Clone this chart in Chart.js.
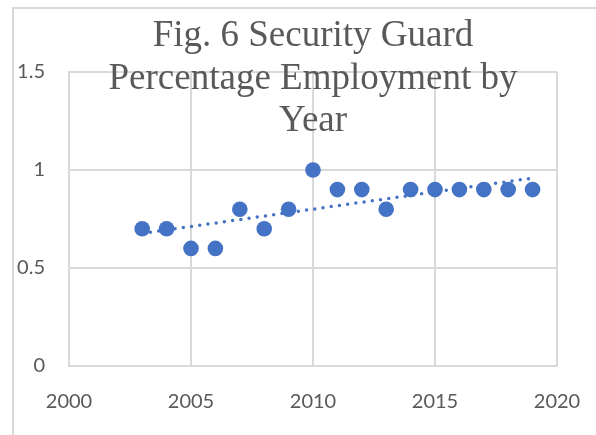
<!DOCTYPE html>
<html>
<head>
<meta charset="utf-8">
<script src="https://cdn.jsdelivr.net/npm/chart.js@4"></script>
<style>
  html, body { margin: 0; background: #fff; }
  canvas { display: block; }
</style>
</head>
<body>
<canvas id="guardChart" width="596" height="435"></canvas>
<script>
const years = [2003, 2004, 2005, 2006, 2007, 2008, 2009, 2010, 2011, 2012, 2013, 2014, 2015, 2016, 2017, 2018, 2019];
const shares = [0.7, 0.7, 0.6, 0.6, 0.8, 0.7, 0.8, 1.0, 0.9, 0.9, 0.8, 0.9, 0.9, 0.9, 0.9, 0.9, 0.9];
const xTicks = [2000, 2005, 2010, 2015, 2020];
const yTicks = [0, 0.5, 1, 1.5];
const titleLines = ['Fig. 6 Security Guard', 'Percentage Employment by', 'Year'];

const GRID = '#d9d9d9';
const TEXT = '#595959';
const BLUE = '#4472C4';

// least-squares fit for the dotted trendline
function linearFit(xs, ys) {
    const n = xs.length;
    const mx = xs.reduce((a, b) => a + b, 0) / n;
    const my = ys.reduce((a, b) => a + b, 0) / n;
    let sxy = 0, sxx = 0;
    xs.forEach((x, i) => {
        sxy += (x - mx) * (ys[i] - my);
        sxx += (x - mx) * (x - mx);
    });
    const slope = sxy / sxx;
    return x => my + slope * (x - mx);
}

const fit = linearFit(years, shares);
const first = years[0], last = years[years.length - 1];
const trendPoints = [{ x: first, y: fit(first) }, { x: last, y: fit(last) }];
const points = years.map((y, i) => ({ x: y, y: shares[i] }));

const frameAndTitle = {
    id: 'frameAndTitle',
    beforeDraw(chart) {
        const ctx = chart.ctx;
        ctx.save();
        ctx.fillStyle = '#fff';
        ctx.fillRect(0, 0, chart.width, chart.height);
        ctx.strokeStyle = GRID;
        ctx.lineWidth = 2;
        ctx.strokeRect(13, 8, chart.width + 20, chart.height + 20);
        ctx.restore();
    },
    afterDraw(chart) {
        const ctx = chart.ctx;
        const area = chart.chartArea;
        const cx = (area.left + area.right) / 2;
        ctx.save();
        ctx.fillStyle = TEXT;
        ctx.font = '37px "Liberation Serif", "Times New Roman", serif';
        ctx.textAlign = 'center';
        ctx.textBaseline = 'alphabetic';
        titleLines.forEach((line, i) => ctx.fillText(line, cx, 46 + i * 42.5));
        ctx.restore();
    }
};

new Chart(document.getElementById('guardChart'), {
    type: 'scatter',
    data: {
        datasets: [
            {
                label: 'Linear trend',
                data: trendPoints,
                showLine: true,
                borderColor: BLUE,
                borderWidth: 3.5,
                borderDash: [0, 8.3],
                borderCapStyle: 'round',
                pointRadius: 0,
                order: 0
            },
            {
                label: 'Security guard %',
                data: points,
                backgroundColor: BLUE,
                borderWidth: 0,
                pointRadius: 7.8,
                order: 1
            }
        ]
    },
    options: {
        responsive: false,
        animation: false,
        devicePixelRatio: 1,
        layout: { padding: { left: 0, top: 72, right: 39, bottom: 0 } },
        plugins: {
            legend: { display: false },
            tooltip: { enabled: false }
        },
        scales: {
            x: {
                type: 'linear',
                min: 2000,
                max: 2020,
                afterBuildTicks: s => { s.ticks = xTicks.map(v => ({ value: v })); },
                afterFit: s => {
                    s.height = 69;
                    s.paddingLeft = 0;
                    s.paddingRight = 0;
                },
                grid: { color: GRID, lineWidth: 2, drawTicks: false },
                border: { display: true, color: GRID, width: 2 },
                ticks: {
                    color: TEXT,
                    padding: 24,
                    font: { family: 'Lato, "Liberation Sans", sans-serif', size: 20 },
                    callback: v => String(v)
                }
            },
            y: {
                min: 0,
                max: 1.5,
                afterBuildTicks: s => { s.ticks = yTicks.map(v => ({ value: v })); },
                afterFit: s => {
                    s.width = 69;
                    s.paddingTop = 0;
                    s.paddingBottom = 0;
                },
                grid: { color: GRID, lineWidth: 2, drawTicks: false },
                border: { display: true, color: GRID, width: 2 },
                ticks: {
                    color: TEXT,
                    padding: 24,
                    font: { family: 'Lato, "Liberation Sans", sans-serif', size: 20 },
                    callback: v => String(v)
                }
            }
        }
    },
    plugins: [frameAndTitle]
});
</script>
</body>
</html>
